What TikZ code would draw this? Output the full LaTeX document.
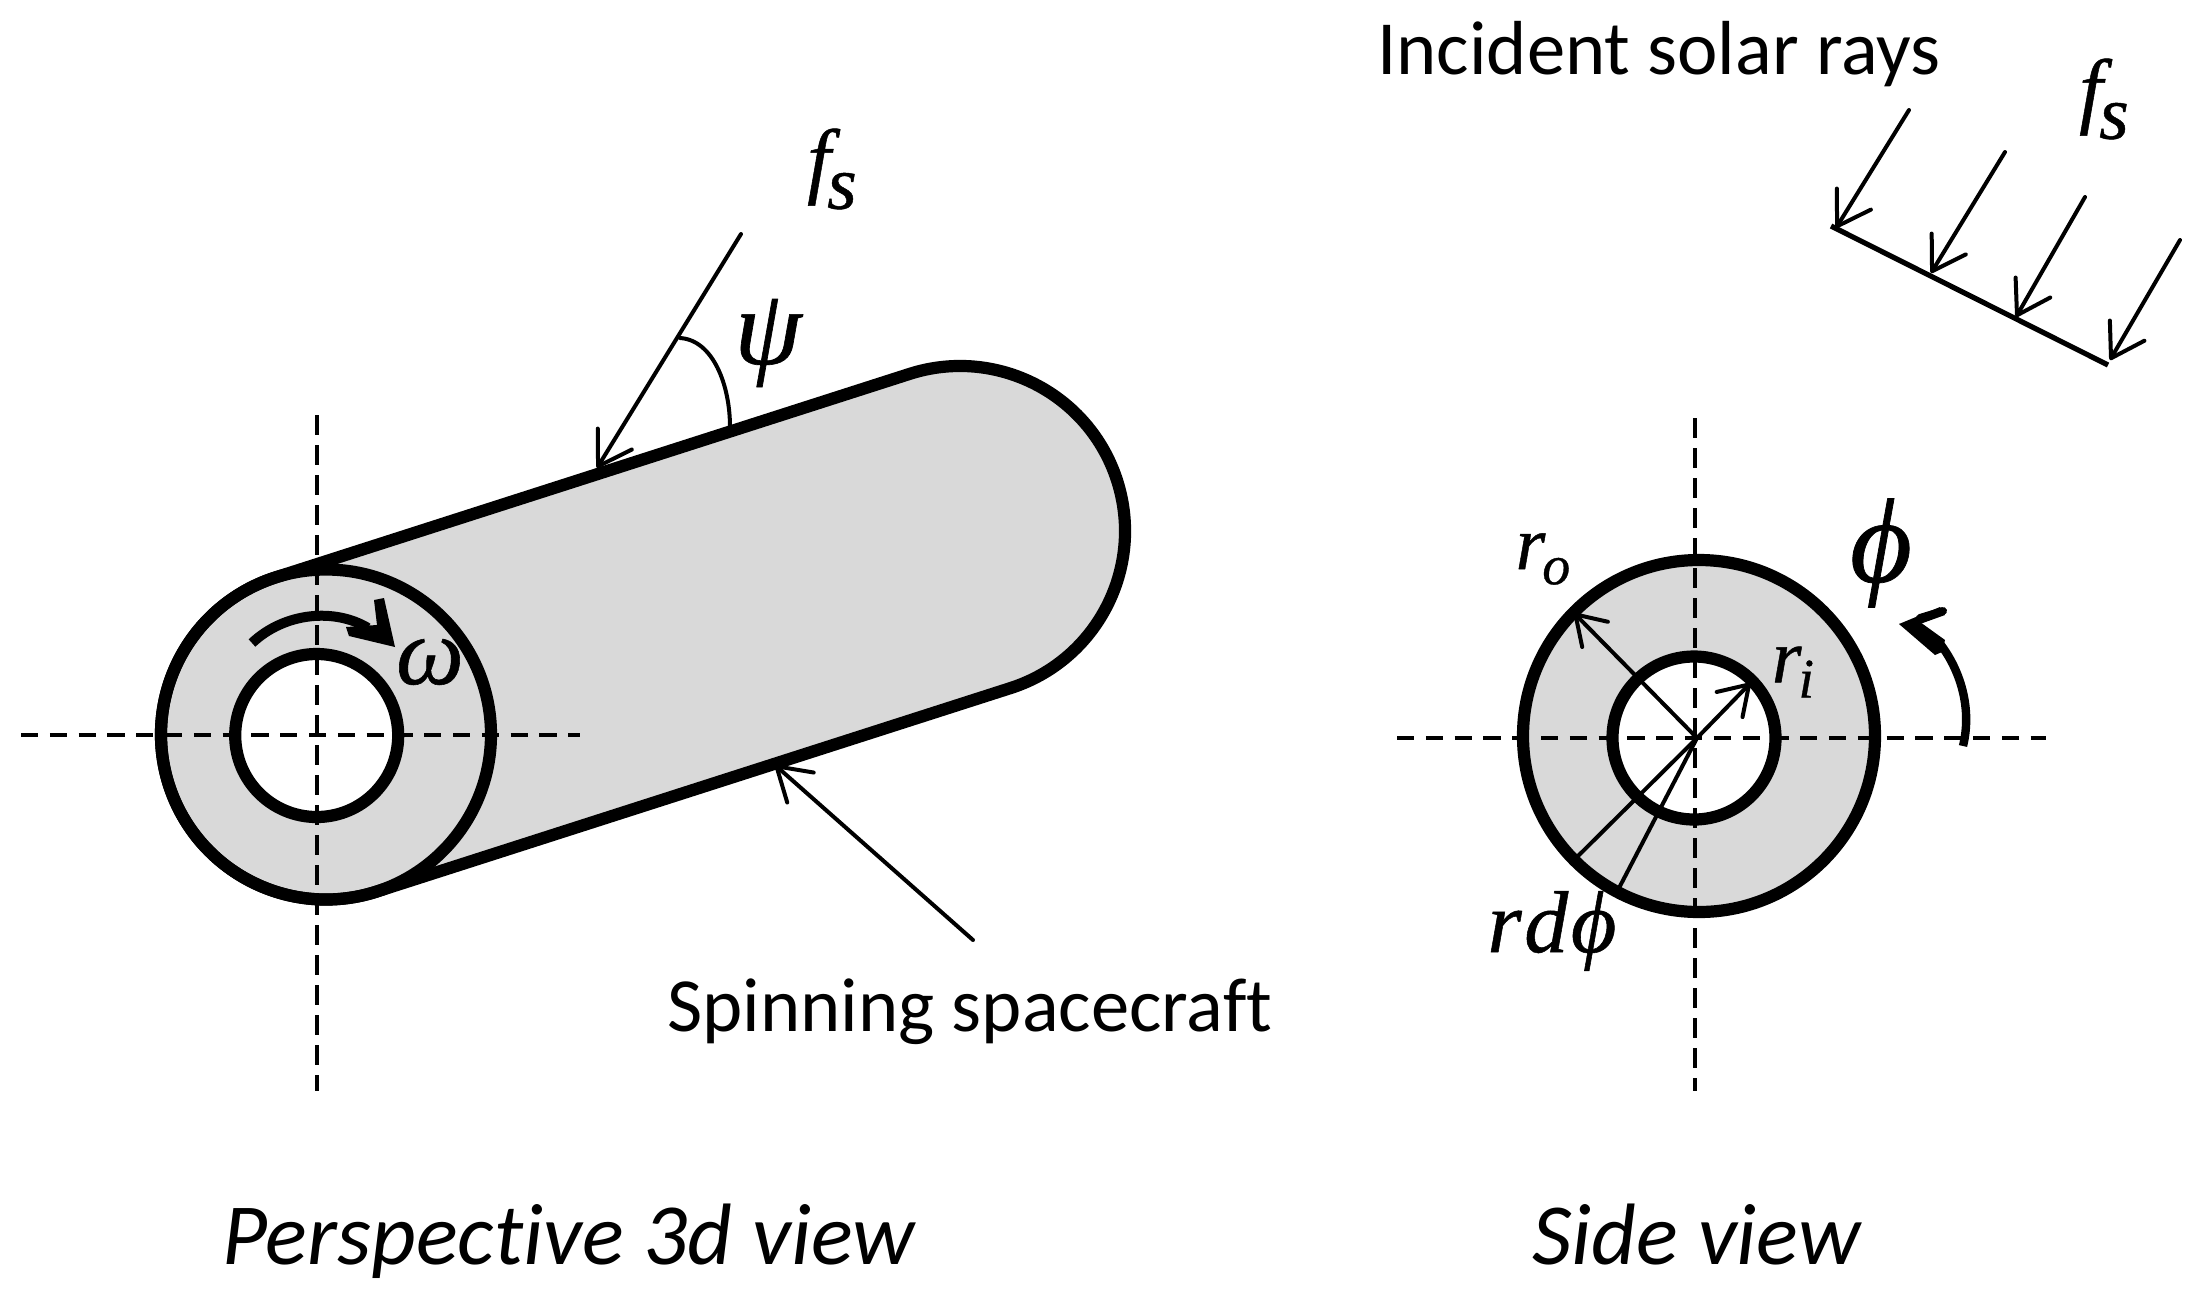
\documentclass[tikz,border=0pt]{standalone}
\usepackage{fontspec}
\setmainfont{Carlito}[Ligatures=NoCommon]
\newfontfamily\symfont{Liberation Serif}[FakeBold=0.6]
\usetikzlibrary{arrows.meta}
\definecolor{bodygray}{HTML}{D9D9D9}
\newcommand{\lowered}[3]{\kern-0.04em\raisebox{-#3em}{\fontsize{#1}{#1}\selectfont #2}}
\tikzset{
  x=0.5pt,y=-0.5pt,
  wall/.style={draw=black,line width=6.1pt,line join=round},
  axisline/.style={draw=black,line width=2.4pt,dash pattern=on 8.6pt off 5.8pt},
  axislinev/.style={draw=black,line width=2.4pt,dash pattern=on 10pt off 5pt},
  ray/.style={draw=black,line width=2pt,line cap=round,-{Straight Barb[round,length=16pt,width=20pt,line width=2pt]}},
  thinline/.style={draw=black,line width=2pt,line cap=round},
  rotarrow/.style={draw=black,line width=4.2pt},
  lab/.style={inner sep=0pt,anchor=base west,font=\fontsize{38.3}{40}\selectfont},
  captiontext/.style={inner sep=0pt,anchor=base west,font=\fontsize{43.6}{46}\selectfont\itshape},
  sym/.style={inner sep=0pt,anchor=center,font=\symfont\itshape},
}
\begin{document}
\begin{tikzpicture}
\useasboundingbox (0,0) rectangle (2208,1303);
% cylinder
\coordinate (N) at (326,734.5);
\coordinate (F) at (960,531);
\coordinate (I) at (316.7,735.5);
\path[wall,fill=bodygray] ([shift={(-107.7:165)}]F) arc[start angle=-107.7,end angle=72.3,radius=165]
  -- ([shift={(72.3:165)}]N) arc[start angle=72.3,end angle=252.3,radius=165] -- cycle;
\path[wall] (N) circle (165);
\path[wall,fill=white] (I) circle (81.5);
% axes left
\coordinate (hl1) at (21,735); \coordinate (hl2) at (580,735);
\coordinate (vl1) at (317,415); \coordinate (vl2) at (317,1091);
\draw[axisline] (hl1) -- (hl2);
\draw[axislinev] (vl1) -- (vl2);
% omega arrow
\coordinate (w0) at (252,643);
\coordinate (w1) at (368,628);
\draw[rotarrow,line width=5pt] (w0) .. controls (285,612) and (335,608) .. (w1);
\fill (374,600) -- (384,598) -- (395,647) -- (349,636) -- (346,627) -- (377,625) -- cycle;
\node[sym] (omega) at (430,662) {\fontsize{48}{48}\selectfont ω};
% f_s arrow and psi
\coordinate (fa) at (741,234); \coordinate (fb) at (597,468);
\draw[ray] (fa) -- (fb);
\coordinate (pa) at (680,338); \coordinate (pb) at (730,427);
\draw[thinline] (pa) .. controls (713,340) and (730,385) .. (pb);
\node[sym] (fs1) at (832,169) {\fontsize{42}{42}\selectfont f\lowered{38}{s}{0.25}};
\node[sym] (psi) at (768,343) {\fontsize{54}{54}\selectfont ψ};
% spacecraft arrow
\coordinate (sa) at (973,940); \coordinate (sb) at (775,765);
\draw[ray] (sa) -- (sb);
\node[lab] (sc) at (667,1031) {Spinning spacecraft};
\node[captiontext] (pv) at (222,1264) {Perspective 3d view};
% side view
\coordinate (O) at (1699,736);
\coordinate (C) at (1697,738);
\coordinate (Ii) at (1694,738);
\path[wall,fill=bodygray] (O) circle (176);
\path[wall,fill=white] (Ii) circle (81.5);
\coordinate (hr1) at (1397,738); \coordinate (hr2) at (2046,738);
\coordinate (vr1) at (1695,418); \coordinate (vr2) at (1695,1091);
\draw[axisline] (hr1) -- (hr2);
\draw[axislinev] (vr1) -- (vr2);
\coordinate (ro) at (1574,613); \coordinate (ri) at (1750.5,683);
\draw[thinline,-{Straight Barb[round,length=14pt,width=18pt,line width=2pt]}] (C) -- (ro);
\draw[thinline,-{Straight Barb[round,length=14pt,width=18pt,line width=2pt]}] (C) -- (ri);
\coordinate (d1) at (1576,858); \coordinate (d2) at (1619,888);
\draw[thinline] (C) -- (d1);
\draw[thinline] (C) -- (d2);
\node[sym] (rolab) at (1543,559) {\fontsize{38}{38}\selectfont r\lowered{28}{o}{0.2}};
\node[sym] (rilab) at (1793,672) {\fontsize{38}{38}\selectfont r\lowered{28}{i}{0.2}};
\node[sym] (philab) at (1881,553) {\fontsize{60}{60}\selectfont ϕ};
\node[sym] (rdlab) at (1552,931) {\fontsize{44}{44}\selectfont r\kern.03em d\kern.03em ϕ};
% phi arrow
\coordinate (p0) at (1937,640); \coordinate (p1) at (1963,746);
\draw[rotarrow] (p0) .. controls (1958,665) and (1973,705) .. (p1);
\fill (1899,624) -- (1920,622) -- (1945,640) -- (1942,652) -- (1935,655) -- cycle;
\fill (1899,624) -- (1940,607) -- (1945,615) -- (1920,624) -- cycle;
\draw[line width=4pt,line cap=round] (1920,618) -- (1943,611);
% solar rays
\node[lab] (inc) at (1377,74) {Incident solar rays};
\node[sym] (fs2) at (2104,99) {\fontsize{42}{42}\selectfont f\lowered{38}{s}{0.25}};
\coordinate (b1) at (1831,226); \coordinate (b2) at (2108,365);
\draw[draw=black,line width=2.6pt] (b1) -- (b2);
\coordinate (r1a) at (1909,110); \coordinate (r1b) at (1836,228);
\coordinate (r2a) at (2005,152); \coordinate (r2b) at (1931,273);
\coordinate (r3a) at (2085,197); \coordinate (r3b) at (2016,317);
\coordinate (r4a) at (2180,240); \coordinate (r4b) at (2110,360);
\draw[ray] (r1a) -- (r1b);
\draw[ray] (r2a) -- (r2b);
\draw[ray] (r3a) -- (r3b);
\draw[ray] (r4a) -- (r4b);
\node[captiontext] (sv) at (1532,1264) {Side view};
\end{tikzpicture}
\end{document}
